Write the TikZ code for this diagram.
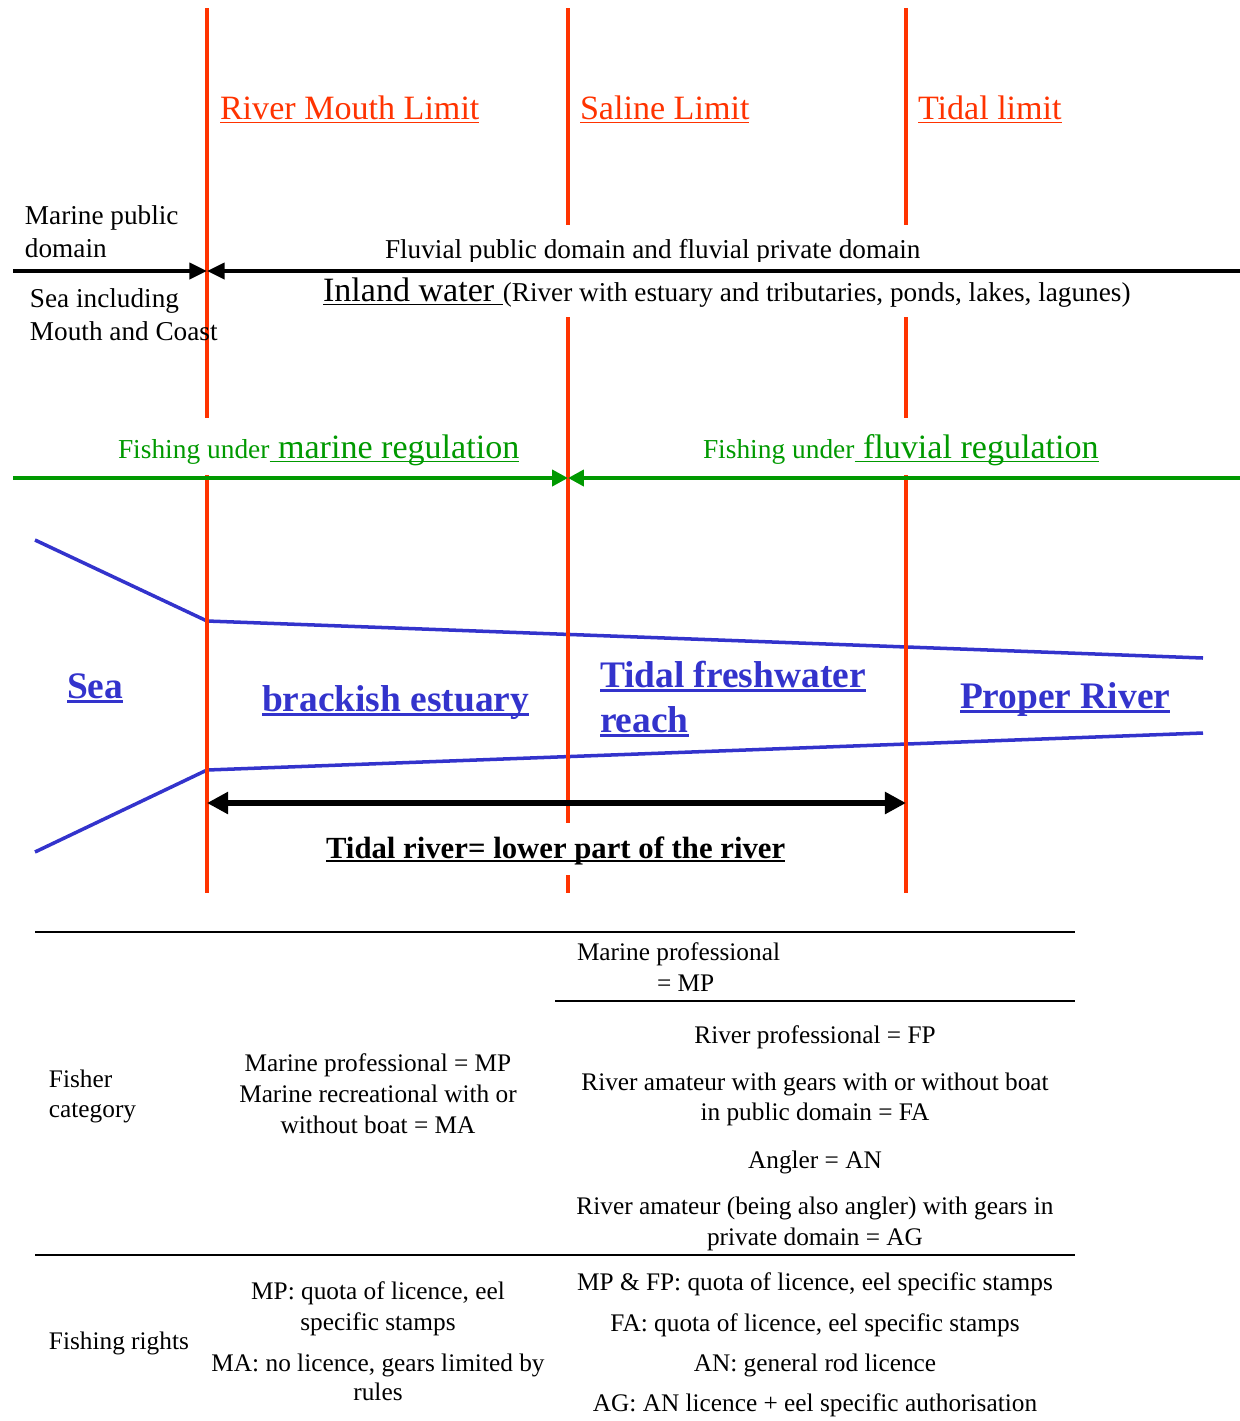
\documentclass[tikz,border=0pt]{standalone}
\usepackage{fontspec}
\setmainfont{Liberation Serif}
\usetikzlibrary{arrows.meta}
\definecolor{redl}{RGB}{255,51,0}
\definecolor{grn}{RGB}{0,153,0}
\definecolor{blu}{RGB}{51,51,204}
\newcommand\myul[2][0.06em]{\setbox0\hbox{#2}\rlap{\rule[-0.13em]{\wd0}{#1}}\box0}
\newcommand\fA{\fontsize{19.4}{23}\selectfont}
\newcommand\fB{\fontsize{15.5}{18}\selectfont}
\newcommand\fC{\fontsize{14.4}{17.6}\selectfont}
\newcommand\fG{\fontsize{15.6}{18}\selectfont}
\newcommand\fD{\fontsize{21.3}{25}\selectfont\bfseries}
\newcommand\fE{\fontsize{17.5}{20}\selectfont\bfseries}
\begin{document}
\begin{tikzpicture}[x=0.02cm,y=-0.02cm,
  txt/.style={inner sep=0pt,outer sep=0pt,anchor=base west},
  ctr/.style={inner sep=0pt,outer sep=0pt,anchor=base},
  redline/.style={draw=redl,line width=2.8pt},
  blkarrow/.style={draw=black,line width=2.3pt,-{Triangle[length=10pt,width=9pt]}},
  grnarrow/.style={draw=grn,line width=2.3pt,-{Triangle[length=9pt,width=9pt]}},
  bluline/.style={draw=blu,line width=2pt},
  tidalarrow/.style={draw=black,line width=3.4pt,{Triangle[length=12pt,width=12pt]}-{Triangle[length=12pt,width=12pt]}},
  tabrule/.style={draw=black,line width=1.1pt}]
\useasboundingbox (0,0) rectangle (1240,1421);

% coordinates of the limits
\coordinate (r1a) at (207,8);   \coordinate (r1b) at (207,418);
\coordinate (r1c) at (207,475); \coordinate (r1d) at (207,893);
\coordinate (r2a) at (568,8);   \coordinate (r2b) at (568,225);
\coordinate (r2c) at (568,317); \coordinate (r2d) at (568,823);
\coordinate (r2e) at (568,875); \coordinate (r2f) at (568,893);
\coordinate (r3a) at (906,8);   \coordinate (r3b) at (906,225);
\coordinate (r3c) at (906,317); \coordinate (r3d) at (906,418);
\coordinate (r3e) at (906,475); \coordinate (r3f) at (906,893);

% river banks
\coordinate (u0) at (35,540);  \coordinate (u1) at (207,621); \coordinate (u2) at (1203,658);
\coordinate (l0) at (35,852);  \coordinate (l1) at (207,770); \coordinate (l2) at (1203,733);
\draw[bluline] (u0) -- (u1) -- (u2);
\draw[bluline] (l0) -- (l1) -- (l2);

% red limit lines
\draw[redline] (r1a) -- (r1b);
\draw[redline] (r1c) -- (r1d);
\draw[redline] (r2a) -- (r2b);
\draw[redline] (r2c) -- (r2d);
\draw[redline] (r2e) -- (r2f);
\draw[redline] (r3a) -- (r3b);
\draw[redline] (r3c) -- (r3d);
\draw[redline] (r3e) -- (r3f);

% domain arrows
\coordinate (bL) at (13,271); \coordinate (bM) at (207,271); \coordinate (bR) at (1240,271);
\draw[blkarrow] (bL) -- (bM);
\draw[blkarrow] (bR) -- (bM);
\coordinate (gL) at (13,478); \coordinate (gM) at (568,478); \coordinate (gR) at (1240,478);
\draw[grnarrow] (gL) -- (gM);
\draw[grnarrow] (gR) -- (gM);

% tidal river arrow
\coordinate (tL) at (207,803); \coordinate (tR) at (906,803);
\draw[tidalarrow] (tL) -- (tR);

% limit labels
\node[txt,text=redl,font=\fA] (lim1) at (220,119) {\myul[0.05em]{River Mouth Limit}};
\node[txt,text=redl,font=\fA] (lim2) at (580,119) {\myul[0.05em]{Saline Limit}};
\node[txt,text=redl,font=\fA] (lim3) at (918,119) {\myul[0.05em]{Tidal limit}};

% domain labels
\node[txt,font=\fB] (mpd1) at (25,224) {Marine public};
\node[txt,font=\fB] (mpd2) at (25,257) {domain};
\begin{scope}
\clip (300,200) rectangle (1000,261);
\node[txt,font=\fB] (fpd) at (385,258) {Fluvial public domain and fluvial private domain};
\end{scope}
\node[txt,font=\fA] (inl) at (323,301) {\myul[0.05em]{Inland water }};
\node[txt,font=\fB] (inl2) at (inl.base east) {(River with estuary and tributaries, ponds, lakes, lagunes)};
\node[txt,font=\fB] (sea1) at (30,307) {Sea including};
\node[txt,font=\fB] (sea2) at (30,340) {Mouth and Coast};

% regulation labels
\node[txt,text=grn,font=\fG] (fm1) at (118,458) {Fishing under};
\node[txt,text=grn,font=\fA] (fm2) at (fm1.base east) {\myul[0.05em]{ marine regulation}};
\node[txt,text=grn,font=\fG] (ff1) at (703,458) {Fishing under};
\node[txt,text=grn,font=\fA] (ff2) at (ff1.base east) {\myul[0.05em]{ fluvial regulation}};

% reach labels
\node[txt,text=blu,font=\fD] (sea) at (67,698) {\myul[0.08em]{Sea}};
\node[txt,text=blu,font=\fD] (brk) at (262,711) {\myul[0.08em]{brackish estuary}};
\node[txt,text=blu,font=\fD] (tfw1) at (600,687) {\myul[0.08em]{Tidal freshwater}};
\node[txt,text=blu,font=\fD] (tfw2) at (600,732) {\myul[0.08em]{reach}};
\node[txt,text=blu,font=\fD] (prv) at (960,708) {\myul[0.08em]{Proper River}};
\node[txt,font=\fE] (tidal) at (326,858) {\myul[0.08em]{Tidal river= lower part of the river}};

% table rules
\coordinate (t1a) at (35,932);  \coordinate (t1b) at (1075,932);
\coordinate (t2a) at (555,1001); \coordinate (t2b) at (1075,1001);
\coordinate (t3a) at (35,1255); \coordinate (t3b) at (1075,1255);
\draw[tabrule] (t1a) -- (t1b);
\draw[tabrule] (t2a) -- (t2b);
\draw[tabrule] (t3a) -- (t3b);

% table: fisher category
\node[txt,font=\fC] (mp1) at (577,960) {Marine professional};
\node[txt,font=\fC] (mp2) at (657,991) {= MP};
\node[txt,font=\fC] (fc1) at (49,1087) {Fisher};
\node[txt,font=\fC] (fc2) at (49,1117) {category};
\node[ctr,font=\fC] (mc1) at (378,1071) {Marine professional = MP};
\node[ctr,font=\fC] (mc2) at (378,1102) {Marine recreational with or};
\node[ctr,font=\fC] (mc3) at (378,1133) {without boat = MA};
\node[ctr,font=\fC] (rc1) at (815,1043) {River professional = FP};
\node[ctr,font=\fC] (rc2) at (815,1090) {River amateur with gears with or without boat};
\node[ctr,font=\fC] (rc3) at (815,1120) {in public domain = FA};
\node[ctr,font=\fC] (rc4) at (815,1168) {Angler = AN};
\node[ctr,font=\fC] (rc5) at (815,1214) {River amateur (being also angler) with gears in};
\node[ctr,font=\fC] (rc6) at (815,1245) {private domain = AG};

% table: fishing rights
\node[txt,font=\fC] (fr) at (49,1349) {Fishing rights};
\node[ctr,font=\fC] (mr1) at (378,1299) {MP: quota of licence, eel};
\node[ctr,font=\fC] (mr2) at (378,1330) {specific stamps};
\node[ctr,font=\fC] (mr3) at (378,1371) {MA: no licence, gears limited by};
\node[ctr,font=\fC] (mr4) at (378,1400) {rules};
\node[ctr,font=\fC] (rr1) at (815,1290) {MP \& FP: quota of licence, eel specific stamps};
\node[ctr,font=\fC] (rr2) at (815,1331) {FA: quota of licence, eel specific stamps};
\node[ctr,font=\fC] (rr3) at (815,1371) {AN: general rod licence};
\node[ctr,font=\fC] (rr4) at (815,1411) {AG: AN licence + eel specific authorisation};
\end{tikzpicture}
\end{document}
